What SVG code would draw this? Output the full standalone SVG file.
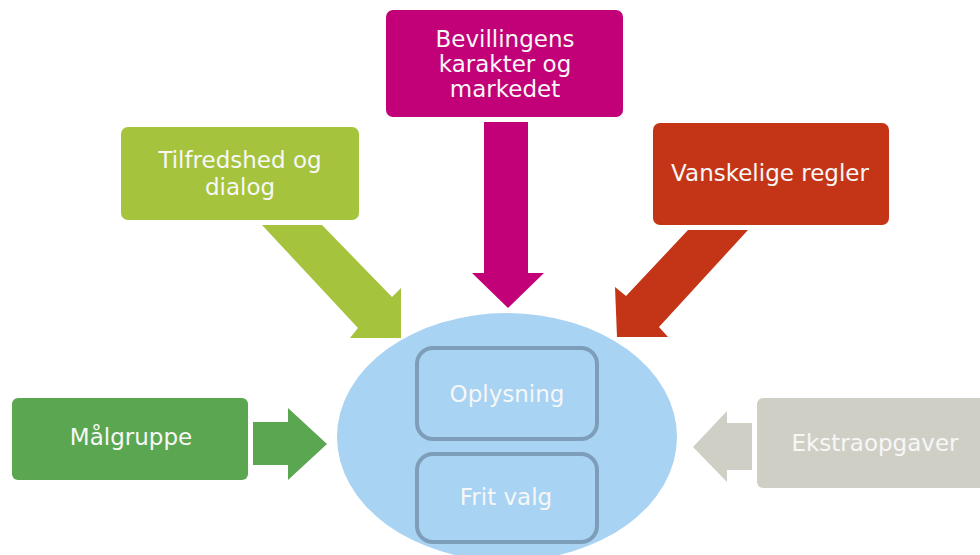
<svg xmlns="http://www.w3.org/2000/svg" width="980" height="555" viewBox="0 0 980 555">
<style>
.t{font-family:"DejaVu Sans","Verdana",sans-serif;font-size:23px;fill:#F7F7F7;text-anchor:middle}
.inner{fill:#A8D3F3;stroke:#7D9DB8;stroke-width:4}
</style>
<rect width="980" height="555" fill="#FFFFFF"/>
<g id="center">
<ellipse cx="507" cy="437" rx="170" ry="124" fill="#A8D3F3"/>
</g>
<g id="oplysning">
<rect class="inner" x="417" y="348" width="180" height="91" rx="16"/>
<text class="t" x="507" y="402">Oplysning</text>
</g>
<g id="frit-valg">
<rect class="inner" x="417" y="454" width="180" height="88" rx="16"/>
<text class="t" x="506" y="505">Frit valg</text>
</g>
<g id="connectors">
<polygon fill="#C20078" points="484,122 528,122 528,273 544,273 508,308 472,273 484,273"/>
<polygon fill="#A5C33C" points="262,225 322,225 392,297 401,288 401,338 350,338 358,328"/>
<polygon fill="#C43517" points="688,230 748,230 659,327 668,337 617,337 615,287 626,296"/>
<polygon fill="#5BA651" points="253,422 288,422 288,408 327,444 288,480 288,465 253,465"/>
<polygon fill="#D0CFC6" points="752,423 727,423 727,411 693,447 727,482 727,470 752,470"/>
</g>
<g id="bevillingens">
<rect x="386" y="10" width="237" height="107" rx="7" fill="#C20078"/>
<text class="t" x="505" y="47">Bevillingens</text>
<text class="t" x="505" y="72">karakter og</text>
<text class="t" x="505" y="97">markedet</text>
</g>
<g id="tilfredshed">
<rect x="121" y="127" width="238" height="93" rx="7" fill="#A5C33C"/>
<text class="t" x="240" y="168">Tilfredshed og</text>
<text class="t" x="240" y="195">dialog</text>
</g>
<g id="vanskelige">
<rect x="653" y="123" width="236" height="102" rx="7" fill="#C43517"/>
<text class="t" x="770" y="181">Vanskelige regler</text>
</g>
<g id="malgruppe">
<rect x="12" y="398" width="236" height="82" rx="6" fill="#5BA651"/>
<text class="t" x="131" y="445">Målgruppe</text>
</g>
<g id="ekstraopgaver">
<rect x="757" y="398" width="236" height="90" rx="6" fill="#D0CFC6"/>
<text class="t" x="875" y="451">Ekstraopgaver</text>
</g>
</svg>
